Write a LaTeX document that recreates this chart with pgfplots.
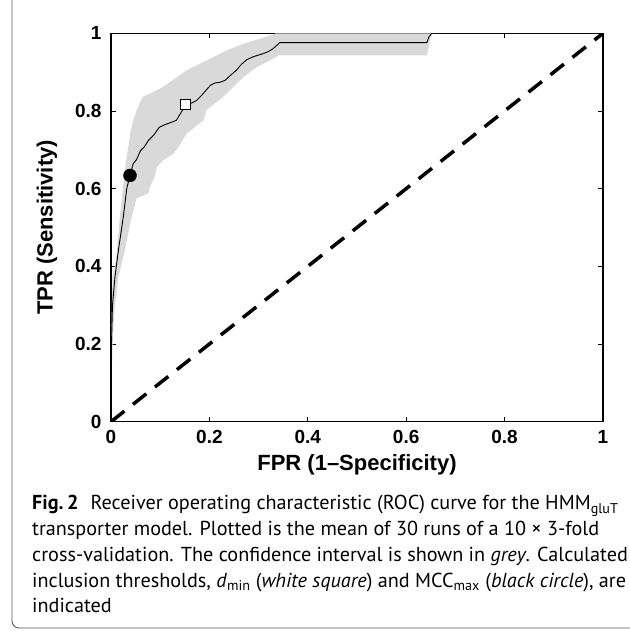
\documentclass[border=0pt]{standalone}
\usepackage{fontspec}
\setmainfont{PT Sans}
\newfontfamily\arial{Liberation Sans}
\usepackage{pgfplots}
\pgfplotsset{compat=1.18}
\begin{document}
\begin{tikzpicture}[x=1pt,y=1pt]
\path[use as bounding box] (0,0) rectangle (629,631);
\draw[line width=0.9pt, black!65, rounded corners=7pt] (12,640) -- (12,3) -- (660,3);
\begin{axis}[
  scale only axis,
  width=492pt, height=388.4pt,
  at={(111pt,209.3pt)}, anchor=south west,
  xmin=0, xmax=1, ymin=0, ymax=1,
  xtick={0,0.2,0.4,0.6,0.8,1},
  ytick={0,0.2,0.4,0.6,0.8,1},
  tick align=inside,
  major tick length=5pt,
  axis line style={line width=1.2pt},
  tick style={line width=0.9pt, black},
  /pgf/number format/assume math mode=true,
  ticklabel style={font=\arial\bfseries\fontsize{19}{19}\selectfont},
  xticklabel style={yshift=-5pt},
  yticklabel style={xshift=-6pt},
  label style={font=\arial\bfseries\fontsize{22}{22}\selectfont},
  xlabel={FPR (1\textendash Specificity)},
  ylabel={TPR (Sensitivity)},
  xlabel style={at={(axis description cs:0.5,-0.111)}, anchor=center},
  ylabel style={at={(axis description cs:-0.130,0.5)}, anchor=center},
  clip=true,
]
% confidence band
\addplot[fill=black!15, draw=none] coordinates {
(0,0.07) (0.001,0.25) (0.003,0.372) (0.008,0.40) (0.012,0.441) (0.018,0.527)
(0.024,0.60) (0.028,0.647) (0.033,0.69) (0.039,0.742) (0.045,0.776) (0.055,0.81)
(0.064,0.836) (0.086,0.849) (0.106,0.862) (0.134,0.887) (0.154,0.905) (0.181,0.922)
(0.208,0.939) (0.235,0.956) (0.269,0.973) (0.303,0.986) (0.330,0.997) (0.335,1)
(1,1) (0.655,1) (0.650,0.99) (0.642,0.943) (0.340,0.943) (0.323,0.930) (0.296,0.913)
(0.269,0.887) (0.249,0.862) (0.228,0.836) (0.194,0.802) (0.188,0.776) (0.154,0.742)
(0.137,0.707) (0.127,0.690) (0.106,0.673) (0.093,0.655) (0.089,0.631) (0.079,0.604)
(0.076,0.588) (0.052,0.575) (0.042,0.527) (0.028,0.441) (0.015,0.372) (0.008,0.30)
(0.004,0.227) (0.001,0.1) (0,0.07)
} -- cycle;
% chance line
\addplot[black, line width=3.5pt, dash pattern=on 17pt off 11pt] coordinates {(0,0) (1,1)};
% mean ROC
\addplot[black, line width=0.9pt] coordinates {
(0.001,0.07) (0.001,0.2) (0.003,0.3) (0.008,0.372) (0.015,0.441) (0.025,0.527)
(0.032,0.6) (0.0386,0.634) (0.045,0.664) (0.052,0.675) (0.060,0.698) (0.068,0.708)
(0.076,0.724) (0.087,0.738) (0.098,0.758) (0.110,0.765) (0.123,0.771) (0.133,0.776)
(0.139,0.789) (0.152,0.816) (0.163,0.820) (0.174,0.827) (0.184,0.840) (0.193,0.853)
(0.202,0.866) (0.211,0.872) (0.222,0.874) (0.232,0.879) (0.243,0.892) (0.255,0.905)
(0.265,0.920) (0.276,0.932) (0.290,0.940) (0.310,0.948) (0.320,0.953) (0.330,0.961)
(0.343,0.976) (0.642,0.976) (0.646,0.99) (0.652,1) (1,1)
};
% MCC max (black circle)
\addplot[only marks, mark=*, mark size=6.5pt, black] coordinates {(0.0386,0.634)};
% d min (white square)
\addplot[only marks, mark=square*, mark size=5pt, mark options={fill=white, draw=black, line width=0.9pt}] coordinates {(0.152,0.816)};
\end{axis}
\begin{scope}[every node/.style={anchor=base west, inner sep=0pt, font=\fontsize{20.2}{25}\selectfont}]
\node at (32,121) {\textbf{Fig.\,2}\hspace{0.6em}Receiver operating characteristic (ROC) curve for the HMM\textsubscript{gluT}};
\node at (32,95.3) {transporter model. Plotted is the mean of 30 runs of a 10 × 3-fold};
\node at (32,69.6) {cross-validation. The confidence interval is shown in \textit{grey}. Calculated};
\node at (32,43.9) {inclusion thresholds, \textit{d}\textsubscript{min} (\textit{white square}) and MCC\textsubscript{max} (\textit{black circle}), are};
\node at (32,18.2) {indicated};
\end{scope}
\end{tikzpicture}
\end{document}
